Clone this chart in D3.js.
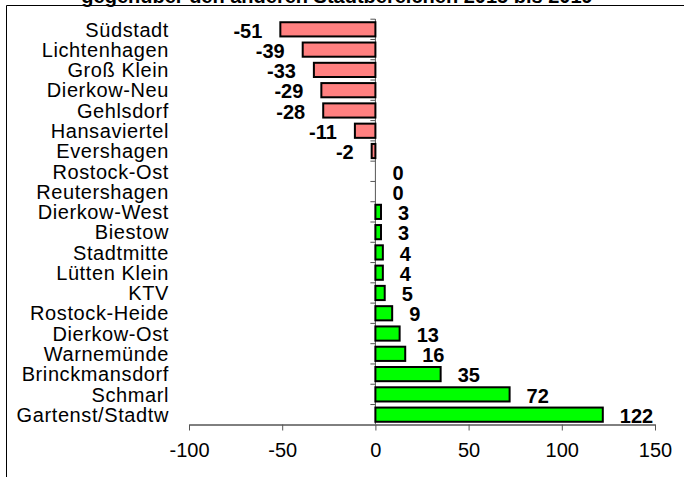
<!DOCTYPE html>
<html><head><meta charset="utf-8">
<script src="https://cdn.jsdelivr.net/npm/d3@7"></script>
<style>body{margin:0;background:#fff}svg{display:block}text{font-family:"Liberation Sans",Arial,sans-serif}</style>
</head><body><svg id="c" width="684" height="477"></svg>
<script>
const categories = ["Südstadt","Lichtenhagen","Groß Klein","Dierkow-Neu","Gehlsdorf","Hansaviertel","Evershagen","Rostock-Ost","Reutershagen","Dierkow-West","Biestow","Stadtmitte","Lütten Klein","KTV","Rostock-Heide","Dierkow-Ost","Warnemünde","Brinckmansdorf","Schmarl","Gartenst/Stadtw"];
const values = [-51,-39,-33,-29,-28,-11,-2,0,0,3,3,4,4,5,9,13,16,35,72,122];
const xTicks = [-100,-50,0,50,100,150];
const title = "gegenüber den anderen Stadtbereichen 2015 bis 2019";

const FONT = "'Liberation Sans', Arial, sans-serif";
const svg = d3.select("#c");
const x = d3.scaleLinear().domain([-100,150]).range([189,655]);
const y = d3.scaleBand().domain(categories).range([19.2,424.8]).paddingInner(0.3).paddingOuter(0.15);

// frame
svg.append("path").attr("d","M6.5,477 V5.5 H684").attr("fill","none").attr("stroke","#000").attr("stroke-width",1);
// title (cut off at top, as in the reference)
svg.append("text").attr("x",337).attr("y",3).attr("text-anchor","middle").attr("font-size",20).attr("font-weight","bold").attr("font-family",FONT).text(title);

// category labels
svg.append("g").selectAll("text").data(categories).join("text")
  .attr("x",169).attr("y",d=>y(d)+y.bandwidth()/2).attr("dy","0.36em")
  .attr("text-anchor","end").attr("font-size",20).attr("letter-spacing","0.6px").attr("font-family",FONT).text(d=>d);

// y axis at zero with ticks at band boundaries
const step = y.step();
const yb = svg.append("g");
yb.append("line").attr("x1",x(0)).attr("x2",x(0)).attr("y1",19).attr("y2",424).attr("stroke","#555").attr("stroke-width",1);
const bounds = d3.range(categories.length).map(i=>y(categories[i]) - y.paddingInner()*step/2);
yb.selectAll("line.t").data(bounds).join("line").attr("class","t")
  .attr("x1",x(0)-5).attr("x2",x(0)).attr("y1",d=>d).attr("y2",d=>d).attr("stroke","#555");

// bars
svg.append("g").selectAll("rect").data(values.map((v,i)=>({v,c:categories[i]}))).join("rect")
  .filter(d=>d.v!==0)
  .attr("x",d=>x(Math.min(0,d.v))).attr("width",d=>Math.abs(x(d.v)-x(0)))
  .attr("y",d=>y(d.c)).attr("height",y.bandwidth())
  .attr("fill",d=>d.v<0?"#FF8080":"#00FF00").attr("stroke","#000").attr("stroke-width",2);

// value labels
svg.append("g").selectAll("text").data(values.map((v,i)=>({v,c:categories[i]}))).join("text")
  .attr("x",d=>d.v<0?x(d.v)-18:x(d.v)+17)
  .attr("y",d=>y(d.c)+y.bandwidth()/2+1).attr("dy","0.36em")
  .attr("text-anchor",d=>d.v<0?"end":"start")
  .attr("font-size",20).attr("font-weight","bold").attr("font-family",FONT).text(d=>String(d.v));

// x axis
const xa = svg.append("g").attr("transform","translate(0,424.5)")
  .call(d3.axisBottom(x).tickValues(xTicks).tickSize(6).tickSizeOuter(0).tickPadding(12).tickFormat(d=>String(d)));
xa.select(".domain").attr("stroke","#000");
xa.selectAll(".tick line").attr("stroke","#555");
xa.selectAll("text").attr("font-size",20).attr("font-family",FONT).attr("fill","#000");
</script></body></html>
